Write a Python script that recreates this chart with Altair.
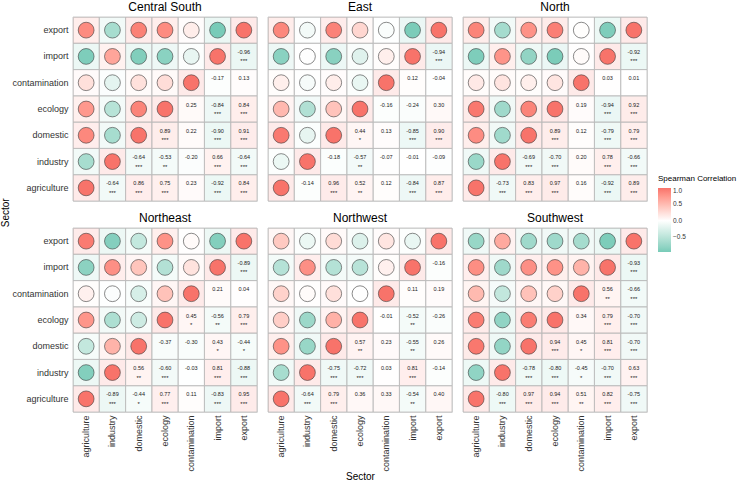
import altair as alt
import pandas as pd

sectors = ["agriculture", "industry", "domestic", "ecology", "contamination", "import", "export"]
regions = ["Central South", "East", "North", "Northeast", "Northwest", "Southwest"]

# upper-triangle values, row-major: (agri,ind),(agri,dom),...,(import,export)
cs_r = [-0.64, 0.86, 0.75, 0.23, -0.92, 0.84, -0.64, -0.53, -0.20, 0.66, -0.64,
        0.89, 0.22, -0.90, 0.91, 0.25, -0.84, 0.84, -0.17, 0.13, -0.96]
cs_s = ["***", "***", "***", "", "***", "***", "***", "**", "", "***", "***",
        "***", "", "***", "***", "", "***", "***", "", "", "***"]

east_r = [-0.14, 0.96, 0.52, 0.12, -0.84, 0.87, -0.18, -0.57, -0.07, -0.01, -0.09,
          0.44, 0.13, -0.85, 0.90, -0.16, -0.24, 0.30, 0.12, -0.04, -0.94]
east_s = ["", "***", "**", "", "***", "***", "", "**", "", "", "",
          "*", "", "***", "***", "", "", "", "", "", "***"]

north_r = [-0.73, 0.83, 0.97, 0.16, -0.92, 0.89, -0.69, -0.70, 0.20, 0.78, -0.66,
           0.89, 0.12, -0.79, 0.79, 0.19, -0.94, 0.92, 0.03, 0.01, -0.92]
north_s = ["***", "***", "***", "", "***", "***", "***", "***", "", "***", "***",
           "***", "", "***", "***", "", "***", "***", "", "", "***"]

ne_r = [-0.89, -0.44, 0.77, 0.11, -0.83, 0.95, 0.56, -0.60, -0.03, 0.81, -0.88,
        -0.37, -0.30, 0.43, -0.44, 0.45, -0.56, 0.79, 0.21, 0.04, -0.89]
ne_s = ["***", "*", "***", "", "***", "***", "**", "***", "", "***", "***",
        "", "", "*", "*", "*", "**", "***", "", "", "***"]

nw_r = [-0.64, 0.79, 0.36, 0.33, -0.54, 0.40, -0.75, -0.72, 0.03, 0.81, -0.14,
        0.57, 0.23, -0.55, 0.26, -0.01, -0.52, -0.26, 0.11, 0.19, -0.16]
nw_s = ["***", "***", "", "", "**", "", "***", "***", "", "***", "",
        "**", "", "**", "", "", "**", "", "", "", ""]

sw_r = [-0.80, 0.97, 0.94, 0.51, 0.82, -0.75, -0.78, -0.80, -0.45, -0.70, 0.63,
        0.94, 0.45, 0.81, -0.70, 0.34, 0.79, -0.70, 0.56, -0.66, -0.93]
sw_s = ["***", "***", "***", "**", "***", "***", "***", "***", "*", "***", "***",
        "***", "*", "***", "***", "", "***", "***", "**", "***", "***"]

values = [cs_r, east_r, north_r, ne_r, nw_r, sw_r]
stars = [cs_s, east_s, north_s, ne_s, nw_s, sw_s]

rows = []
for reg, rv, sv in zip(regions, values, stars):
    k = 0
    for i in range(7):
        rows.append(dict(region=reg, x=sectors[i], y=sectors[i], r=1.0, kind="circle", label="", stars=""))
        for j in range(i + 1, 7):
            r, s = rv[k], sv[k]
            k += 1
            rows.append(dict(region=reg, x=sectors[j], y=sectors[i], r=r, kind="text", label=f"{r:.2f}", stars=s))
            rows.append(dict(region=reg, x=sectors[i], y=sectors[j], r=r, kind="circle", label="", stars=""))
df = pd.DataFrame(rows)

FONT = "Liberation Sans"
TEAL = "#78CBB8"
RED = "#F8736A"

color_scale = alt.Scale(domain=[-0.96, 0, 1], range=[TEAL, "#ffffff", RED], interpolate="lab")
legend = alt.Legend(orient="none", legendX=585, legendY=158, title="Spearman Correlation",
                    titleFontSize=8, titleFontWeight="normal", titleColor="#000", titleFont=FONT,
                    labelFontSize=6.5, labelColor="#333", labelFont=FONT,
                    gradientLength=64, gradientThickness=13, gradientStrokeWidth=0,
                    values=[1.0, 0.5, 0.0, -0.5], format=".1f", direction="vertical")


def panel(reg, show_x, show_y, xtitle=None):
    if show_x:
        xaxis = alt.Axis(labelAngle=270, domain=False, ticks=False, labelPadding=3,
                         labelFontSize=9, labelColor="#333", labelFont=FONT,
                         title=xtitle, titleFontSize=10, titleFontWeight="normal",
                         titleFont=FONT, titleColor="#000", titlePadding=0)
    else:
        xaxis = None
    if show_y:
        yaxis = alt.Axis(domain=False, ticks=False, labelPadding=5, labelFontSize=9,
                         labelColor="#333", labelFont=FONT, title=None)
    else:
        yaxis = None
    x = alt.X("x:N", scale=alt.Scale(domain=sectors, paddingInner=0, paddingOuter=0), axis=xaxis)
    y = alt.Y("y:N", scale=alt.Scale(domain=sectors[::-1], paddingInner=0, paddingOuter=0), axis=yaxis)
    base = alt.Chart(df[df.region == reg])
    tiles = base.mark_rect(fillOpacity=0.15, stroke="#bdbdbd", strokeWidth=0.8).encode(
        x=x, y=y, color=alt.Color("r:Q", scale=color_scale, legend=legend))
    circles = base.transform_filter(alt.datum.kind == "circle").mark_circle(
        size=250, opacity=1, stroke="#3a3a3a", strokeWidth=0.6).encode(
        x=x, y=y, color=alt.Color("r:Q", scale=color_scale, legend=legend))
    vals = base.transform_filter(alt.datum.kind == "text").mark_text(
        fontSize=5.5, dy=-4.5, color="#222", font=FONT).encode(x=x, y=y, text="label:N")
    strs = base.transform_filter(alt.datum.kind == "text").mark_text(
        fontSize=6, dy=5, color="#222", font=FONT).encode(x=x, y=y, text="stars:N")
    return alt.layer(tiles, circles, vals, strs).properties(
        width=184, height=184,
        title=alt.TitleParams(reg, fontSize=12, fontWeight="normal", font=FONT, color="#000",
                              anchor="middle", offset=3))


row1 = alt.hconcat(panel("Central South", False, True),
                   panel("East", False, False),
                   panel("North", False, False), spacing=9)
row2 = alt.hconcat(panel("Northeast", True, True),
                   panel("Northwest", True, False, xtitle="Sector"),
                   panel("Southwest", True, False), spacing=9)
chart = alt.vconcat(row1, row2, spacing=9).resolve_scale(color="shared").properties(
    title=alt.TitleParams("Sector", orient="left", anchor="middle", fontSize=10,
                          fontWeight="normal", font=FONT, color="#000", offset=0, dx=28),
    padding={"left": 1, "top": 0, "right": 0, "bottom": 0}
).configure_view(stroke=None).configure(
    font=FONT, style={"group-title": {"fontWeight": "normal", "fontSize": 12}}
).configure_title(fontWeight="normal")

chart.save("out.html", embed_options={"renderer": "svg", "actions": False})
